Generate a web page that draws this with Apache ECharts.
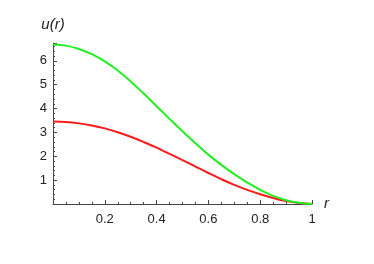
<!DOCTYPE html>
<html><head><meta charset="utf-8">
<script src="https://cdn.jsdelivr.net/npm/echarts@6/dist/echarts.min.js"></script>
<style>html,body{margin:0;padding:0;background:#fff}#c{width:374px;height:264px}</style>
</head><body><div id="c"></div>
<script>
const rValues = [0,0.05,0.1,0.15,0.2,0.25,0.3,0.35,0.4,0.45,0.5,0.55,0.6,0.65,0.7,0.75,0.8,0.85,0.9,0.95,1];
const greenU = [6.69,6.64,6.50,6.28,5.98,5.60,5.14,4.63,4.10,3.57,3.05,2.55,2.07,1.64,1.25,0.90,0.59,0.34,0.16,0.05,0];
const redU   = [3.46,3.44,3.38,3.29,3.17,3.01,2.82,2.60,2.36,2.10,1.84,1.57,1.30,1.04,0.80,0.59,0.41,0.25,0.12,0.04,0];
const xTickLabels = ['0.2','0.4','0.6','0.8','1'];
const yTickLabels = ['1','2','3','4','5','6'];

const pair = arr => rValues.map((r,i)=>[r,arr[i]]);
const font = '"Liberation Sans", Arial, sans-serif';
const chart = echarts.init(document.getElementById('c'));
chart.setOption({
  animation:false,
  grid:{left:53,right:62,top:43,bottom:60,containLabel:false},
  xAxis:{type:'value',min:0,max:1,interval:0.2,
    name:'r',nameLocation:'end',nameGap:12,
    nameTextStyle:{fontStyle:'italic',fontSize:15,color:'#222',fontFamily:font,verticalAlign:'middle'},
    axisLine:{onZero:true,lineStyle:{color:'#444',width:1}},
    axisTick:{show:true,inside:true,length:4,lineStyle:{color:'#444'}},
    minorTick:{show:true,splitNumber:4,length:2,lineStyle:{color:'#444'}},
    splitLine:{show:false},
    axisLabel:{margin:9,fontSize:13,color:'#222',fontFamily:font,
      formatter:v=>{const s=xTickLabels.find(t=>Math.abs(parseFloat(t)-v)<1e-6);return s||'';}}
  },
  yAxis:{type:'value',min:0,max:6.75,interval:1,
    name:'u(r)',nameLocation:'end',nameGap:11,
    nameTextStyle:{fontStyle:'italic',fontSize:15,color:'#222',fontFamily:font,align:'center'},
    axisLine:{onZero:true,lineStyle:{color:'#444',width:1}},
    axisTick:{show:true,inside:true,length:4,lineStyle:{color:'#444'}},
    minorTick:{show:true,splitNumber:5,length:2,lineStyle:{color:'#444'}},
    splitLine:{show:false},
    axisLabel:{margin:6,fontSize:13,color:'#222',fontFamily:font,
      formatter:v=>{const s=yTickLabels.find(t=>Math.abs(parseFloat(t)-v)<1e-6);return s||'';}}
  },
  series:[
    {type:'line',data:pair(redU),smooth:0.4,showSymbol:false,lineStyle:{color:'#ff1a1a',width:2},itemStyle:{color:'#ff1a1a'}},
    {type:'line',data:pair(greenU),smooth:0.4,showSymbol:false,lineStyle:{color:'#22ee22',width:2},itemStyle:{color:'#22ee22'}}
  ]
});
</script></body></html>
